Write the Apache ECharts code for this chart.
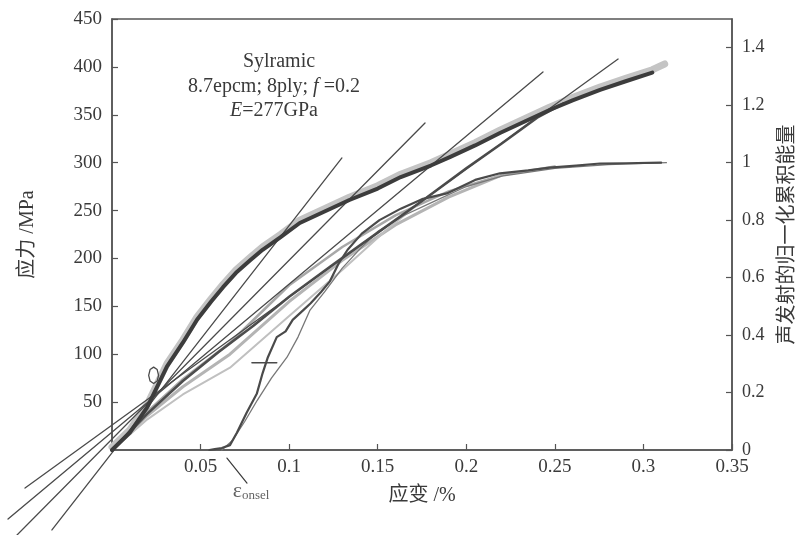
<!DOCTYPE html>
<html>
<head>
<meta charset="utf-8">
<script src="https://cdn.jsdelivr.net/npm/echarts@6/dist/echarts.min.js"></script>
<style>html,body{margin:0;padding:0;background:#fff;}#c{width:798px;height:535px;}</style>
</head>
<body>
<div id="c"></div>
<script>
// ---- data (strain in %, stress in MPa, AE energy normalised) ----
const mainStrain = [0, 0.01, 0.02, 0.031, 0.04, 0.048, 0.056, 0.0627, 0.07, 0.078, 0.085, 0.095, 0.106, 0.12, 0.134, 0.15, 0.163, 0.18, 0.191, 0.205, 0.219, 0.233, 0.247, 0.26, 0.2755, 0.29, 0.305];
const mainStress = [0, 18, 45, 87, 112, 136, 155, 170, 185, 198, 209, 222, 237, 249, 261, 273, 285, 297, 306, 318, 331, 343, 355, 365, 376, 385, 394];
const mainTailStrain = [0.312];
const mainTailStress = [403];

const reloadStrain = [0, 0.02, 0.04, 0.06, 0.08, 0.1, 0.125, 0.15, 0.175, 0.2, 0.22, 0.24, 0.255];
const reloadStress = [0, 38, 72, 102, 130, 160, 194, 227, 260, 294, 320, 347, 362];

const grayAStrain = [0, 0.02, 0.04, 0.0666, 0.1, 0.13, 0.16, 0.19, 0.22, 0.25];
const grayAStress = [0, 40, 74, 112, 172, 212, 245, 270, 287, 296];
const grayBStrain = [0, 0.02, 0.04, 0.0666, 0.1, 0.13, 0.16, 0.19, 0.22];
const grayBStress = [0, 36, 66, 100, 155, 198, 235, 264, 287];
const grayCStrain = [0, 0.02, 0.04, 0.0666, 0.1, 0.13, 0.155, 0.175];
const grayCStress = [0, 32, 58, 86, 140, 188, 230, 260];

const loopStrain = [0.0235, 0.0255, 0.0263, 0.0255, 0.0235, 0.0215, 0.0207, 0.0215, 0.0235];
const loopStress = [86.5, 84, 78, 72, 69.5, 72, 78, 84, 86.5];

// tangent (modulus) lines: two end points each
const tangentStrain = [[-0.0339, 0.1298], [-0.0536, 0.1767], [-0.0587, 0.2433], [-0.0491, 0.2857]];
const tangentStress = [[-83.5, 304.9], [-88.7, 341.4], [-72, 394.7], [-39.7, 408.2]];

// AE normalised cumulative energy (right axis)
const aeStrain = [0.055, 0.058, 0.062, 0.0666, 0.0705, 0.076, 0.0818, 0.085, 0.088, 0.093, 0.098, 0.102, 0.108, 0.112, 0.118, 0.123, 0.128, 0.133, 0.141, 0.151, 0.163, 0.175, 0.189, 0.205, 0.219, 0.235, 0.247, 0.262, 0.2755, 0.29, 0.31];
const aeEnergy = [0, 0.003, 0.007, 0.017, 0.06, 0.13, 0.197, 0.267, 0.323, 0.393, 0.413, 0.453, 0.487, 0.51, 0.55, 0.587, 0.65, 0.697, 0.753, 0.8, 0.84, 0.873, 0.893, 0.94, 0.963, 0.973, 0.983, 0.99, 0.997, 0.998, 1.0];
const ae2Strain = [0.062, 0.068, 0.075, 0.082, 0.09, 0.0988, 0.105, 0.1118, 0.12, 0.13, 0.14, 0.15, 0.165, 0.18, 0.2, 0.22, 0.25, 0.28, 0.313];
const ae2Energy = [0, 0.033, 0.1, 0.173, 0.25, 0.323, 0.393, 0.487, 0.55, 0.633, 0.7, 0.76, 0.817, 0.86, 0.917, 0.953, 0.98, 0.993, 1.0];

const crossStrain = [0.079, 0.093];
const crossStress = [91, 91];
const onsetStrain = [0.0649, 0.0762];
const onsetStress = [-8.4, -34.5];

const xTicks = { min: 0, max: 0.35, step: 0.05 };
const yLeftTicks = { min: 0, max: 450, step: 50 };
const yRightTicks = { min: 0, max: 1.5, step: 0.2 };
// extended (hidden) frame for the tangent lines that run below/left of the origin
const xExt = { min: -0.06, max: 0.35 };
const yExt = { min: -90, max: 450 };

const textColor = '#3a3a3a';
const serif = "'Liberation Serif', 'Noto Sans CJK SC', serif";
const zip = (a, b) => a.map((v, i) => [v, b[i]]);

// main grid geometry
const G = { left: 112, right: 66, top: 19, bottom: 85, w: 798, h: 535 };
const pxPerX = (G.w - G.left - G.right) / (xTicks.max - xTicks.min);
const pxPerY = (G.h - G.top - G.bottom) / (yLeftTicks.max - yLeftTicks.min);
const G2 = { left: G.left - (xTicks.min - xExt.min) * pxPerX, right: G.right, top: G.top, bottom: G.bottom - (yLeftTicks.min - yExt.min) * pxPerY };

function line(name, xs, ys, color, width, yAxisIndex, z, xAxisIndex) {
  return { name, type: 'line', data: zip(xs, ys), xAxisIndex: xAxisIndex || 0, yAxisIndex: yAxisIndex || 0, symbol: 'none', smooth: false, clip: false,
    lineStyle: { color, width, cap: 'round', join: 'round' }, z: z || 2, silent: true };
}

const series = [];
series.push(line('mainShadow', mainStrain.concat(mainTailStrain), mainStress.map(v => v + 3).concat(mainTailStress), '#c4c4c4', 7, 0, 1));
series.push(line('grayA', grayAStrain, grayAStress, '#a8a8a8', 2.5, 0, 1));
series.push(line('grayB', grayBStrain, grayBStress, '#b4b4b4', 3, 0, 1));
series.push(line('grayC', grayCStrain, grayCStress, '#c0c0c0', 2, 0, 1));
series.push(line('ae2', ae2Strain, ae2Energy, '#777', 1.3, 1, 2));
series.push(line('ae', aeStrain, aeEnergy, '#4a4a4a', 2.2, 1, 3));
series.push(line('reload', reloadStrain, reloadStress, '#4d4d4d', 2.6, 0, 3));
tangentStrain.forEach((xs, i) => series.push(line('tangent' + i, xs, tangentStress[i], '#4a4a4a', 1.3, 2, 4, 1)));
series.push(line('main', mainStrain, mainStress, '#3c3c3c', 4, 0, 5));
series.push(line('loop', loopStrain, loopStress, '#4a4a4a', 1.3, 0, 5));
series.push(line('cross', crossStrain, crossStress, '#4a4a4a', 1.5, 0, 5));
series.push(line('onset', onsetStrain, onsetStress, '#3a3a3a', 1.2, 2, 5, 1));
series.push({
  type: 'scatter', xAxisIndex: 1, yAxisIndex: 2, data: [[onsetStrain[1], onsetStress[1]]], symbolSize: 0, clip: false, silent: true,
  label: { show: true, position: 'bottom', distance: 0, offset: [4, -3], formatter: '{e|ε}{s|onsel}',
    rich: { e: { fontSize: 22, fontFamily: serif, color: textColor }, s: { fontSize: 13, fontFamily: serif, color: textColor, verticalAlign: 'bottom', padding: [9, 0, 0, 0] } } }
});

const tickFont = 19;
const hiddenAxis = { show: false, axisLine: { show: false }, axisTick: { show: false }, axisLabel: { show: false }, splitLine: { show: false } };

const option = {
  animation: false,
  backgroundColor: '#ffffff',
  grid: [
    { left: G.left, right: G.right, top: G.top, bottom: G.bottom, show: true, borderColor: '#555', borderWidth: 1.5, backgroundColor: 'transparent', containLabel: false, outerBoundsMode: 'none' },
    { left: G2.left, right: G2.right, top: G2.top, bottom: G2.bottom, show: false, containLabel: false, outerBoundsMode: 'none' }
  ],
  xAxis: [{
    type: 'value', gridIndex: 0, min: xTicks.min, max: xTicks.max, interval: xTicks.step,
    name: '应变 /%', nameLocation: 'middle', nameGap: 36,
    nameTextStyle: { fontSize: 20, fontFamily: serif, color: textColor },
    axisLine: { show: true, lineStyle: { color: '#555', width: 1.5 } },
    axisTick: { show: true, inside: true, length: 6, lineStyle: { color: '#555', width: 1.2 } },
    axisLabel: { showMinLabel: false, fontSize: tickFont, fontFamily: serif, color: textColor, margin: 8 },
    splitLine: { show: false }
  }, Object.assign({ type: 'value', gridIndex: 1, min: xExt.min, max: xExt.max }, hiddenAxis)],
  yAxis: [{
    type: 'value', gridIndex: 0, min: yLeftTicks.min, max: yLeftTicks.max, interval: yLeftTicks.step,
    name: '应力 /MPa', nameLocation: 'middle', nameGap: 74, nameRotate: 90,
    nameTextStyle: { fontSize: 20, fontFamily: serif, color: textColor },
    axisLine: { show: true, lineStyle: { color: '#555', width: 1.5 } },
    axisTick: { show: true, inside: true, length: 6, lineStyle: { color: '#555', width: 1.2 } },
    axisLabel: { showMinLabel: false, fontSize: tickFont, fontFamily: serif, color: textColor, margin: 10 },
    splitLine: { show: false }
  }, {
    type: 'value', gridIndex: 0, min: yRightTicks.min, max: yRightTicks.max, interval: yRightTicks.step, position: 'right',
    name: '声发射的归一化累积能量', nameLocation: 'middle', nameGap: 36, nameRotate: 90,
    nameTextStyle: { fontSize: 20, fontFamily: "'Noto Sans CJK SC', sans-serif", color: textColor },
    axisLine: { show: true, lineStyle: { color: '#555', width: 1.5 } },
    axisTick: { show: true, inside: true, length: 6, lineStyle: { color: '#555', width: 1.2 } },
    axisLabel: { showMaxLabel: false, fontSize: 18, fontFamily: serif, color: textColor, margin: 10,
      formatter: v => String(Math.round(v * 10) / 10) },
    splitLine: { show: false }
  }, Object.assign({ type: 'value', gridIndex: 1, min: yExt.min, max: yExt.max }, hiddenAxis)],
  graphic: [
    { type: 'text', x: 279, y: 62, style: { text: 'Sylramic', fontSize: 20, fontFamily: serif, fill: textColor, align: 'center', verticalAlign: 'middle' } },
    { type: 'text', x: 274, y: 87, style: { text: '8.7epcm; 8ply; {i|f} =0.2', fontSize: 20, fontFamily: serif, fill: textColor, align: 'center', verticalAlign: 'middle',
      rich: { i: { fontStyle: 'italic', fontSize: 20, fontFamily: serif, fill: textColor } } } },
    { type: 'text', x: 274, y: 111, style: { text: '{i|E}=277GPa', fontSize: 20, fontFamily: serif, fill: textColor, align: 'center', verticalAlign: 'middle',
      rich: { i: { fontStyle: 'italic', fontSize: 20, fontFamily: serif, fill: textColor } } } }
  ],
  series
};

const chart = echarts.init(document.getElementById('c'), null, { renderer: 'canvas' });
chart.setOption(option);
</script>
</body>
</html>
